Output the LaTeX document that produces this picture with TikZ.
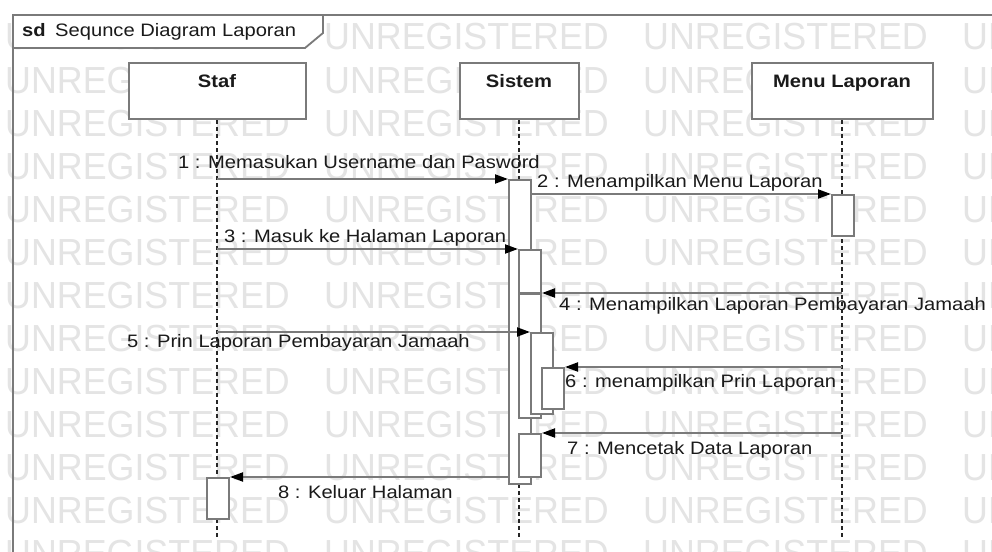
\documentclass[tikz,border=0pt]{standalone}
\usepackage{fontspec}
\setmainfont{Liberation Sans}
\newfontfamily\lblfont[FakeStretch=1.12]{Liberation Sans}
\newfontfamily\wmfont[FakeStretch=0.95]{Liberation Sans}
\usetikzlibrary{arrows.meta}
\definecolor{linegray}{HTML}{7A7A7A}
\definecolor{wmgray}{HTML}{E4E4E4}
\definecolor{txt}{HTML}{1A1A1A}
\begin{document}
\begin{tikzpicture}[x=1pt,y=-1pt,
  wm/.style={inner sep=0pt, anchor=base west, text=wmgray, font=\fontsize{37.7}{40}\selectfont\wmfont},
  framestyle/.style={draw=linegray, line width=1.8pt},
  head/.style={draw=linegray, line width=2pt, fill=white, inner sep=0pt,
    text height=24pt, text depth=32pt, text=txt,
    font=\fontsize{18}{20}\selectfont\lblfont\bfseries},
  act/.style={draw=linegray, line width=2pt, fill=white, inner sep=0pt,
    minimum width=22pt, anchor=north west},
  life/.style={draw=black!85, line width=1.4pt, dash pattern=on 4pt off 3pt},
  msg/.style={draw=linegray, line width=2pt,
    -{Triangle[length=13pt,width=9pt,color=black,fill=black]}},
  lbl/.style={inner sep=0pt, anchor=base west, text=txt,
    font=\fontsize{18}{20}\selectfont\lblfont}
]
\useasboundingbox (0,0) rectangle (992,551);
\clip (0,0) rectangle (992,551);
\fill[white] (0,0) rectangle (992,551);

% watermark
\foreach \j in {0,...,12}{
  \foreach \i in {0,...,3}{
    \node[wm] (wm-\i-\j) at ({5+319*\i},{50+43*\j}) {UNREGISTERED};
  }
}

% frame
\draw[framestyle] (13,570) -- (13,15) -- (1010,15);
\draw[framestyle, fill=white] (13,15) -- (323,15) -- (323,33) -- (305,48) -- (13,48) -- cycle;
\node[lbl, font=\fontsize{18}{20}\selectfont\lblfont\bfseries] (sd) at (22,37) {sd};
\node[lbl] (title) at (55,37) {Sequnce Diagram Laporan};

% lifeline heads
\node[head, minimum width=177pt, minimum height=56pt] (staf) at (217,91) {Staf};
\node[head, minimum width=119pt, minimum height=56pt] (sistem) at (519,91) {Sistem};
\node[head, minimum width=181pt, minimum height=56pt] (menu) at (842,91) {Menu Laporan};

\coordinate (stafend) at (217,538);
\coordinate (sistemend) at (519,538);
\coordinate (menuend) at (842,538);

% lifelines
\draw[life] (staf.south) -- (stafend);
\draw[life] (sistem.south) -- (sistemend);
\draw[life] (menu.south) -- (menuend);

% activations
\node[act, minimum height=304pt] (A1) at (508,179) {};
\node[act, minimum height=41pt] (M1) at (831,194) {};
\node[act, minimum height=43pt] (A2) at (518,249) {};
\node[act, minimum height=124pt] (A3) at (518,293) {};
\node[act, minimum height=81pt] (A4) at (530,332) {};
\node[act, minimum height=41pt] (A5) at (541,367) {};
\node[act, minimum height=43pt] (A6) at (518,433) {};
\node[act, minimum height=41pt] (S1) at (206,477) {};

% messages
\draw[msg] (staf.south |- A1.north west) -- (A1.north west);
\draw[msg] (A1.north east |- M1.north west) -- (M1.north west);
\draw[msg] (staf.south |- A2.north west) -- (A2.north west);
\draw[msg] (menu.south |- A3.north east) -- (A3.north east);
\draw[msg] (staf.south |- A4.north west) -- (A4.north west);
\draw[msg] (menu.south |- A5.north east) -- (A5.north east);
\draw[msg] (menu.south |- A6.north east) -- (A6.north east);
\draw[msg] (A1.west |- S1.north east) -- (S1.north east);

% labels
\node[lbl] (m1) at (178,168) {1 : Memasukan Username dan Pasword};
\node[lbl] (m2) at (537,187) {2 : Menampilkan Menu Laporan};
\node[lbl] (m3) at (224,242) {3 : Masuk ke Halaman Laporan};
\node[lbl] (m4) at (559,310) {4 : Menampilkan Laporan Pembayaran Jamaah};
\node[lbl] (m5) at (127,347) {5 : Prin Laporan Pembayaran Jamaah};
\node[lbl] (m6) at (565,387) {6 : menampilkan Prin Laporan};
\node[lbl] (m7) at (567,454) {7 : Mencetak Data Laporan};
\node[lbl] (m8) at (278,498) {8 : Keluar Halaman};
\end{tikzpicture}
\end{document}
